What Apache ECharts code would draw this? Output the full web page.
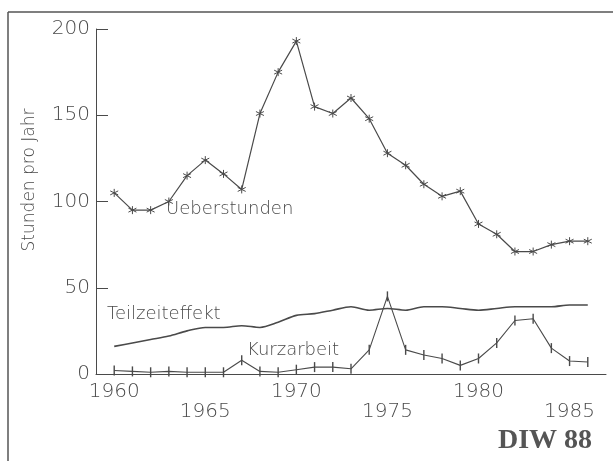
<!DOCTYPE html>
<html>
<head>
<meta charset="utf-8">
<script src="https://cdn.jsdelivr.net/npm/echarts@6/dist/echarts.min.js"></script>
<style>
  html, body { margin: 0; padding: 0; background: #fff; }
  #chart { width: 613px; height: 461px; }
</style>
</head>
<body>
<div id="chart"></div>
<script>
/* Jahre */
const years = [1960, 1961, 1962, 1963, 1964, 1965, 1966, 1967, 1968, 1969,
    1970, 1971, 1972, 1973, 1974, 1975, 1976, 1977, 1978, 1979,
    1980, 1981, 1982, 1983, 1984, 1985, 1986];

/* Ueberstunden */
const ueberstunden = [105, 95, 95, 100, 115, 124, 116, 107, 151, 175,
    193, 155, 151, 160, 148, 128, 121, 110, 103, 106,
    87, 81, 71, 71, 75, 77, 77];

/* Teilzeiteffekt */
const teilzeit = [16, 18, 20, 22, 25, 27, 27, 28, 27, 30,
    34, 35, 37, 39, 37, 38, 37, 39, 39, 38,
    37, 38, 39, 39, 39, 40, 40];

/* Kurzarbeit */
const kurzarbeit = [2, 1.5, 1, 1.5, 1, 1, 1, 8, 1.5, 1,
    2.5, 4, 4, 3, 14, 45, 14, 11, 9, 5,
    9, 18, 31, 32, 15, 7.5, 7];

/* Achsenbeschriftung */
const labelsRow1 = [1960, 1970, 1980];
const labelsRow2 = [1965, 1975, 1985];
const yTicks = [0, 50, 100, 150, 200];

const ink = "#4a4a4a";
const font = "DejaVu Sans";

const chart = echarts.init(document.getElementById("chart"));

function pairs(values){
    return years.map((y, i) => [y, values[i]]);
}

const star = "path://M0,-5L0,5M-4.3,-2.5L4.3,2.5M-4.3,2.5L4.3,-2.5";

const tickLabel = {
    color: ink,
    fontFamily: font,
    fontWeight: 200,
    fontSize: 20
};

chart.setOption({

    animation: false,

    grid: {
        left: 96,
        right: 7,
        top: 29,
        bottom: 87
    },

    xAxis: [
        {
            type: "value",
            min: 1959,
            max: 1987,
            interval: 1,
            axisLine: { lineStyle: { color: ink, width: 1 } },
            axisTick: { show: false },
            splitLine: { show: false },
            axisLabel: Object.assign({}, tickLabel, {
                margin: 8,
                formatter: v => labelsRow1.includes(v) ? String(v) : ""
            })
        },
        {
            type: "value",
            min: 1959,
            max: 1987,
            interval: 1,
            position: "bottom",
            axisLine: { show: false },
            axisTick: { show: false },
            splitLine: { show: false },
            axisLabel: Object.assign({}, tickLabel, {
                margin: 28,
                formatter: v => labelsRow2.includes(v) ? String(v) : ""
            })
        }
    ],

    yAxis: {
        type: "value",
        min: 0,
        max: 200,
        interval: 50,
        axisLine: { show: true, lineStyle: { color: ink, width: 1 } },
        axisTick: { show: true, inside: true, length: 12, lineStyle: { color: ink } },
        splitLine: { show: false },
        axisLabel: Object.assign({}, tickLabel, {
            margin: 6,
            formatter: v => yTicks.includes(v) ? String(v) : ""
        })
    },

    series: [
        {
            name: "Ueberstunden",
            type: "line",
            data: pairs(ueberstunden),
            symbol: star,
            symbolSize: 8,
            showAllSymbol: true,
            lineStyle: { color: ink, width: 1.2 },
            itemStyle: { color: "none", borderColor: ink, borderWidth: 1 }
        },
        {
            name: "Teilzeiteffekt",
            type: "line",
            data: pairs(teilzeit),
            symbol: "none",
            smooth: 0.3,
            lineStyle: { color: ink, width: 1.6 }
        },
        {
            name: "Kurzarbeit",
            type: "line",
            data: pairs(kurzarbeit),
            symbol: "rect",
            symbolSize: [1.4, 10],
            showAllSymbol: true,
            lineStyle: { color: ink, width: 1.1 },
            itemStyle: { color: ink }
        }
    ],

    graphic: [
        /* Rahmen */
        { type: "line", shape: { x1: 8, y1: 12, x2: 613, y2: 12 }, style: { stroke: "#555", lineWidth: 1.5 } },
        { type: "line", shape: { x1: 8, y1: 12, x2: 8, y2: 461 }, style: { stroke: "#555", lineWidth: 1.5 } },

        /* Achsentitel */
        {
            type: "text", x: 30, y: 180, rotation: Math.PI / 2,
            style: {
                text: "Stunden pro Jahr", fill: ink, align: "center", verticalAlign: "middle",
                font: "200 17px 'DejaVu Sans'"
            }
        },

        /* Beschriftung */
        { type: "text", left: 166, top: 200, style: { text: "Ueberstunden", fill: ink, font: "200 18px 'DejaVu Sans'" } },
        { type: "text", left: 107, top: 305, style: { text: "Teilzeiteffekt", fill: ink, font: "200 18px 'DejaVu Sans'" } },
        { type: "text", left: 247, top: 341, style: { text: "Kurzarbeit", fill: ink, font: "200 18px 'DejaVu Sans'" } },
        { type: "text", left: 498, top: 427, style: { text: "DIW 88", fill: "#555", font: "bold 28px 'Liberation Serif'" } }
    ]
});
</script>
</body>
</html>
